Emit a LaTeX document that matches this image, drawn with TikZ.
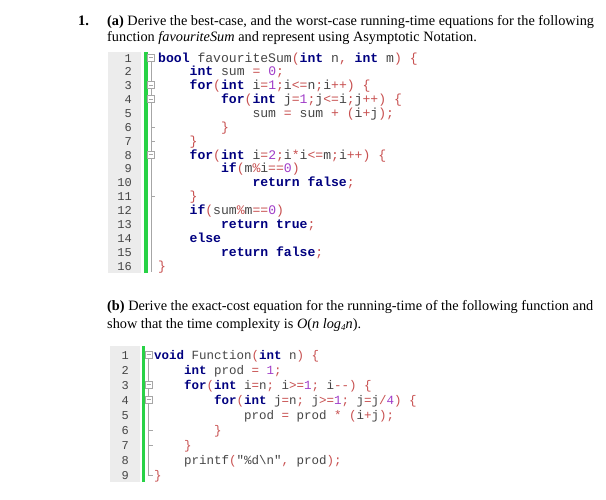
\documentclass[tikz,border=0pt]{standalone}
\usepackage{fontspec}
\setmainfont{Liberation Serif}
\newfontfamily\cmono{Liberation Mono}
\definecolor{kwc}{RGB}{0,0,128}
\definecolor{opc}{RGB}{200,80,80}
\definecolor{nuc}{RGB}{160,60,200}
\definecolor{idc}{RGB}{70,70,70}
\definecolor{gut}{RGB}{236,236,236}
\definecolor{grn}{RGB}{40,210,70}
\newcommand\Kw[1]{\textcolor{kwc}{\bfseries #1}}
\newcommand\Op[1]{\textcolor{opc}{#1}}
\newcommand\Nu[1]{\textcolor{nuc}{#1}}
\begin{document}
\begin{tikzpicture}[x=1pt,y=-1pt,
  txt/.style={anchor=base west,inner sep=0,font=\fontsize{14.3}{15}\selectfont},
  codeA/.style={anchor=base west,inner sep=0,text=idc,font=\cmono\fontsize{13.1}{13}\selectfont},
  codeB/.style={anchor=base west,inner sep=0,text=idc,font=\cmono\fontsize{12.5}{13}\selectfont},
  lnum/.style={anchor=base east,inner sep=0,text=idc,font=\cmono\fontsize{12}{13}\selectfont},
  fold/.style={draw=gray!70,line width=0.5pt}]
\useasboundingbox (0,0) rectangle (606,499);
\fill[white] (0,0) rectangle (606,499);
% text
\node[txt,font=\bfseries\fontsize{14.5}{15}\selectfont] (n1) at (78,25) {1.};
\node[txt] (ta1) at (107,25) {\textbf{(a)} Derive the best-case, and the worst-case running-time equations for the following};
\node[txt] (ta2) at (107,41) {function \textit{favouriteSum} and represent using Asymptotic Notation.};
\node[txt] (tb1) at (107,310) {\textbf{(b)} Derive the exact-cost equation for the running-time of the following function and};
\node[txt] (tb2) at (107,328) {show that the time complexity is \textit{O}(\textit{n log}\raisebox{-0.45ex}{\fontsize{9}{9}\selectfont\textit{4}}\textit{n}).};
% block A
\fill[gut] (108,52) rectangle (141,273);
\fill[grn] (144,52) rectangle (147.5,273);
\foreach \k in {1,...,16}{\node[lnum] (la\k) at (132,{62+(\k-1)*13.87}) {\k};}
\draw[fold] (151,62) -- (151,272);
\foreach \k in {1,3,4,8}{\draw[fold,fill=white] (147.5,{54+(\k-1)*13.87}) rectangle +(7,7);
  \draw[fold] (149,{57.5+(\k-1)*13.87}) -- +(4,0);}
\foreach \k in {6,7,11}{\draw[fold] (151,{58+(\k-1)*13.87}) -- +(4,0);}
\def\cw{7.86}
\node[codeA] (a1) at (158,62) {\Kw{bool} favouriteSum\Op{(}\Kw{int} n\Op{,} \Kw{int} m\Op{)} \Op{\{}};
\node[codeA] (a2) at ({158+4*\cw},75.87) {\Kw{int} sum \Op{=} \Nu{0}\Op{;}};
\node[codeA] (a3) at ({158+4*\cw},89.74) {\Kw{for}\Op{(}\Kw{int} i\Op{=}\Nu{1}\Op{;}i\Op{<=}n\Op{;}i\Op{++)} \Op{\{}};
\node[codeA] (a4) at ({158+8*\cw},103.61) {\Kw{for}\Op{(}\Kw{int} j\Op{=}\Nu{1}\Op{;}j\Op{<=}i\Op{;}j\Op{++)} \Op{\{}};
\node[codeA] (a5) at ({158+12*\cw},117.48) {sum \Op{=} sum \Op{+} \Op{(}i\Op{+}j\Op{);}};
\node[codeA] (a6) at ({158+8*\cw},131.35) {\Op{\}}};
\node[codeA] (a7) at ({158+4*\cw},145.22) {\Op{\}}};
\node[codeA] (a8) at ({158+4*\cw},159.09) {\Kw{for}\Op{(}\Kw{int} i\Op{=}\Nu{2}\Op{;}i\Op{*}i\Op{<=}m\Op{;}i\Op{++)} \Op{\{}};
\node[codeA] (a9) at ({158+8*\cw},172.96) {\Kw{if}\Op{(}m\Op{\%}i\Op{==}\Nu{0}\Op{)}};
\node[codeA] (a10) at ({158+12*\cw},186.83) {\Kw{return} \Kw{false}\Op{;}};
\node[codeA] (a11) at ({158+4*\cw},200.7) {\Op{\}}};
\node[codeA] (a12) at ({158+4*\cw},214.57) {\Kw{if}\Op{(}sum\Op{\%}m\Op{==}\Nu{0}\Op{)}};
\node[codeA] (a13) at ({158+8*\cw},228.44) {\Kw{return} \Kw{true}\Op{;}};
\node[codeA] (a14) at ({158+4*\cw},242.31) {\Kw{else}};
\node[codeA] (a15) at ({158+8*\cw},256.18) {\Kw{return} \Kw{false}\Op{;}};
\node[codeA] (a16) at (158,270.05) {\Op{\}}};
% block B
\fill[gut] (110,346) rectangle (140,482);
\fill[grn] (141.5,346) rectangle (145,482);
\foreach \k in {1,...,9}{\node[lnum] (lb\k) at (129,{359+(\k-1)*15}) {\k};}
\draw[fold] (148.5,359) -- (148.5,475) -- (152.5,475);
\foreach \k in {1,3,4}{\draw[fold,fill=white] (145,{351+(\k-1)*15}) rectangle +(7,7);
  \draw[fold] (146.5,{354.5+(\k-1)*15}) -- +(4,0);}
\foreach \k in {6,7}{\draw[fold] (148.5,{355+(\k-1)*15}) -- +(4,0);}
\def\cv{7.5}
\node[codeB] (b1) at (154,359) {\Kw{void} Function\Op{(}\Kw{int} n\Op{)} \Op{\{}};
\node[codeB] (b2) at ({154+4*\cv},374) {\Kw{int} prod \Op{=} \Nu{1}\Op{;}};
\node[codeB] (b3) at ({154+4*\cv},389) {\Kw{for}\Op{(}\Kw{int} i\Op{=}n\Op{;} i\Op{>=}\Nu{1}\Op{;} i\Op{-{}-)} \Op{\{}};
\node[codeB] (b4) at ({154+8*\cv},404) {\Kw{for}\Op{(}\Kw{int} j\Op{=}n\Op{;} j\Op{>=}\Nu{1}\Op{;} j\Op{=}j\Op{/}\Nu{4}\Op{)} \Op{\{}};
\node[codeB] (b5) at ({154+12*\cv},419) {prod \Op{=} prod \Op{*} \Op{(}i\Op{+}j\Op{);}};
\node[codeB] (b6) at ({154+8*\cv},434) {\Op{\}}};
\node[codeB] (b7) at ({154+4*\cv},449) {\Op{\}}};
\node[codeB] (b8) at ({154+4*\cv},464) {printf\Op{(}"\%d\textbackslash n"\Op{,} prod\Op{);}};
\node[codeB] (b9) at (154,479) {\Op{\}}};
\end{tikzpicture}
\end{document}
